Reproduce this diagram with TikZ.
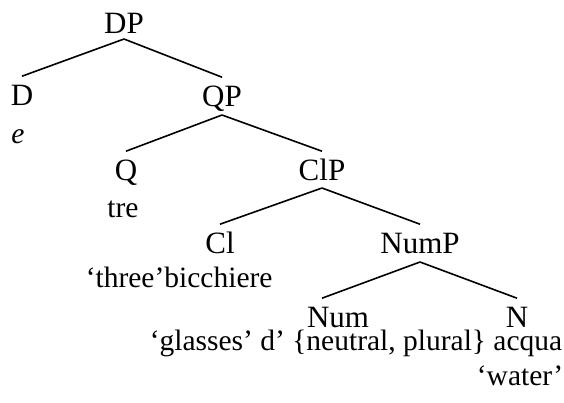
\documentclass[tikz,border=0pt]{standalone}
\usepackage{fontspec}
\setmainfont{Liberation Serif}
\begin{document}
\begin{tikzpicture}[x=1pt, y=-1pt, line width=1.6pt,
	cat/.style={inner sep=0pt, text height=28pt, text depth=0pt, anchor=base,
		font=\fontsize{31}{37}\selectfont},
	leaf/.style={inner sep=0pt, anchor=base, font=\fontsize{29.5}{35}\selectfont}]
	\useasboundingbox (0,0) rectangle (564,402);
	% categories
	\node[cat] (dp) at (124,33) {DP};
	\node[cat] (d) at (22,105) {D};
	\node[cat] (qp) at (222,106) {QP};
	\node[cat] (q) at (126,180) {Q};
	\node[cat] (clp) at (322,180) {ClP};
	\node[cat] (cl) at (220,253) {Cl};
	\node[cat] (nump) at (420,253) {NumP};
	\node[cat] (num) at (338,327) {Num};
	\node[cat] (n) at (517,327) {N};
	% words and glosses
	\node[leaf] (e) at (18,143) {\itshape e};
	\node[leaf] (tre) at (123,217) {tre};
	\node[leaf, anchor=base west] (three) at (85,287) {‘three’bicchiere};
	\node[leaf] (glasses) at (356,350) {‘glasses’ d’ \{neutral, plural\} acqua};
	\node[leaf] (water) at (520,385) {‘water’};
	% branches
	\draw (dp.base) ++(0,6) -- (d.north);
	\draw (dp.base) ++(0,6) -- (qp.north);
	\draw (qp.base) ++(0,9) -- (q.north);
	\draw (qp.base) ++(0,9) -- (clp.north);
	\draw (clp.base) ++(0,8) -- (cl.north);
	\draw (clp.base) ++(0,8) -- (nump.north);
	\draw (nump.base) ++(0,9) -- ([xshift=-16pt]num.north);
	\draw (nump.base) ++(0,9) -- (n.north);
\end{tikzpicture}
\end{document}
